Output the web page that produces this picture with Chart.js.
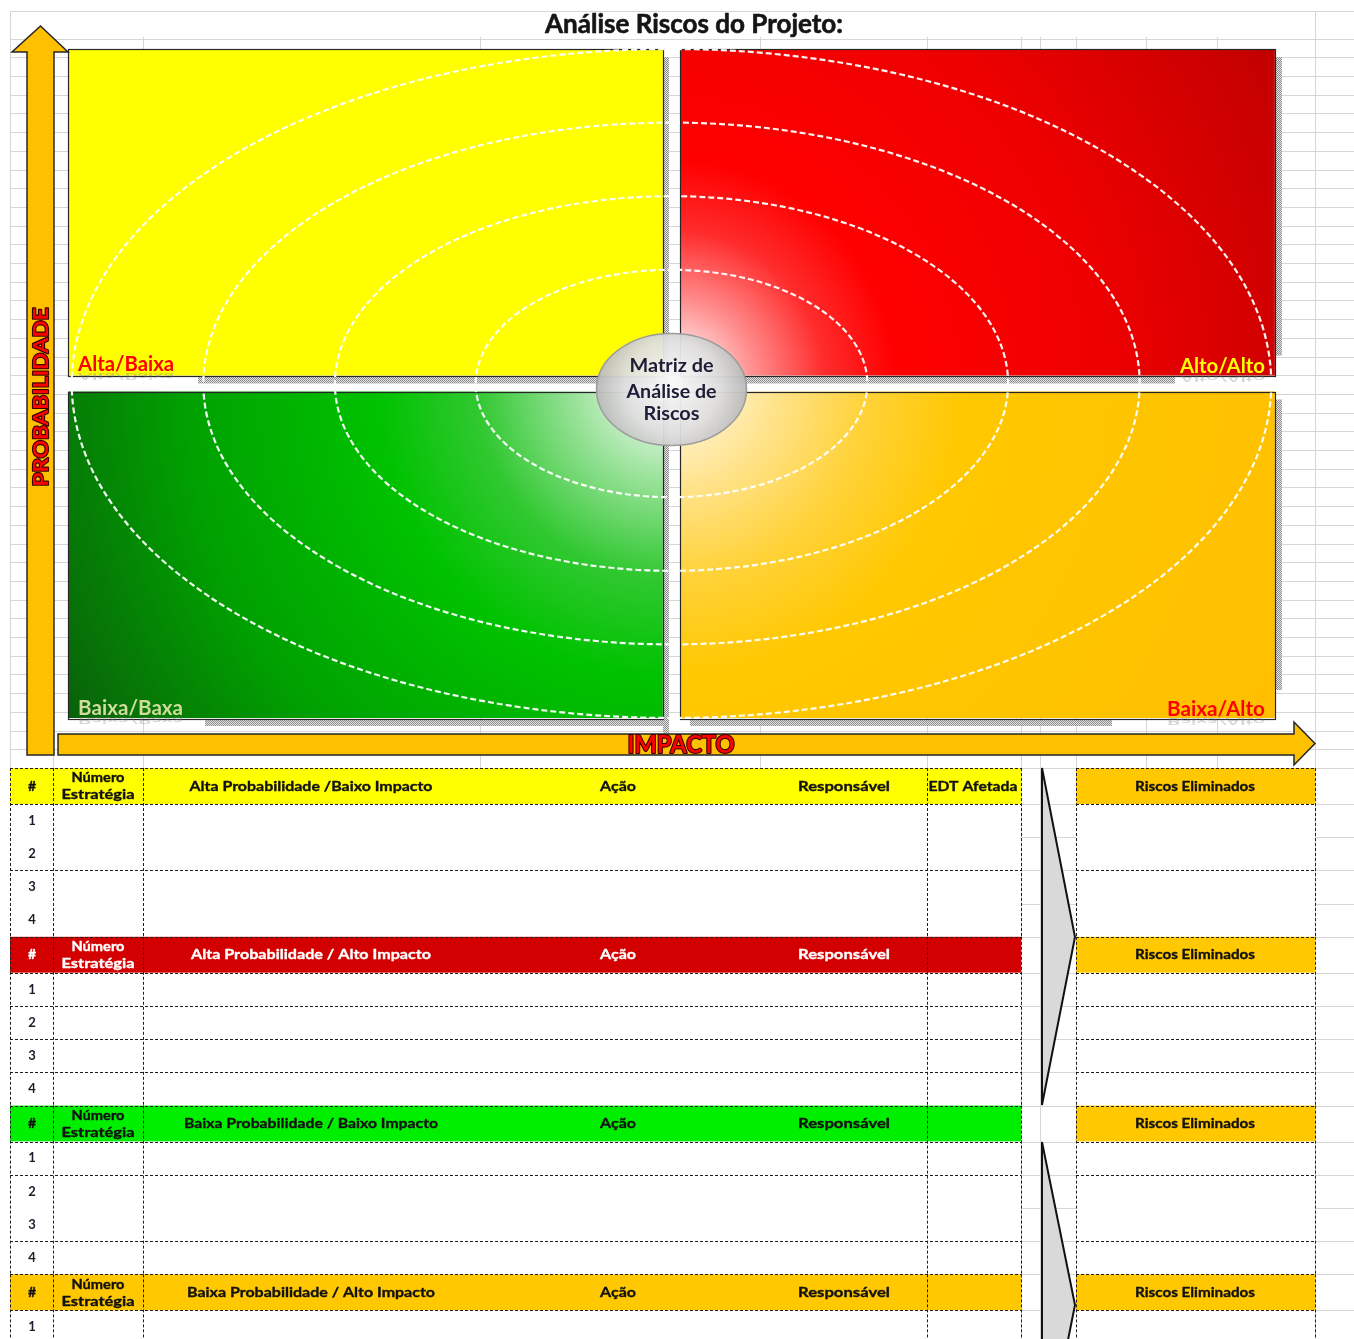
<!DOCTYPE html>
<html lang="pt">
<head>
<meta charset="utf-8">
<title>Análise Riscos do Projeto</title>
<script src="https://cdn.jsdelivr.net/npm/chart.js@4.4.1/dist/chart.umd.min.js"></script>
<style>
html,body{margin:0;padding:0;background:#fff;overflow:hidden;}
canvas{display:block;}
</style>
</head>
<body>
<canvas id="chart" width="1354" height="1339"></canvas>
<script>
// ================= DATA =================
const chartTitle = 'Análise Riscos do Projeto:';
const impactCategories = ['Baixo Impacto', 'Alto Impacto'];
const probabilitySeries = ['Alta Probabilidade', 'Baixa Probabilidade'];
const altaProbRanges = [[1, 2], [1, 2]];
const baixaProbRanges = [[0, 1], [0, 1]];
const altaProbLabels = ['Alta/Baixa', 'Alto/Alto'];
const baixaProbLabels = ['Baixa/Baxa', 'Baixa/Alto'];
const ringImpactRadii = [0.32, 0.55, 0.765, 0.98];
const ringProbRadii = [0.34, 0.56, 0.78, 1.0];
const centerLabelLines = ['Matriz de', 'Análise de', 'Riscos'];
const probAxisTitle = 'PROBABILIDADE';
const impactAxisTitle = 'IMPACTO';
const hashHeader = '#';
const strategyHeader = ['Número', 'Estratégia'];
const actionHeader = 'Ação';
const ownerHeader = 'Responsável';
const edtHeader = 'EDT Afetada';
const eliminatedHeader = 'Riscos Eliminados';
const sectionTitles = ['Alta Probabilidade /Baixo Impacto', 'Alta Probabilidade / Alto Impacto', 'Baixa Probabilidade / Baixo Impacto', 'Baixa Probabilidade / Alto Impacto'];
const sectionRowGroups = [[['1', '2'], ['3', '4']], [['1'], ['2'], ['3'], ['4']], [['1'], ['2', '3'], ['4']], [['1']]];

// ================= STYLE =================
const FONT = 'Lato, "Open Sans", "DejaVu Sans", sans-serif';
const S = {
  gap: 8,
  outline: '#262626',
  grid: '#d6d6d6',
  fills: [
    ['#ffff00', { base: '#ff0000', stops: [[0, '#ffffff'], [0.05, '#ffdede'], [0.12, '#ff8e8e'], [0.22, '#ff2c2c'], [0.32, '#ff0000'], [0.62, '#ee0000'], [1, '#c00000']] }],
    [{ base: '#00c000', stops: [[0, '#ffffff'], [0.05, '#e2f6e2'], [0.15, '#92e092'], [0.28, '#30c830'], [0.42, '#00c200'], [0.7, '#00a000'], [1, '#0a5e0a']] },
     { base: '#ffc800', stops: [[0, '#fffdf6'], [0.05, '#fff3d2'], [0.15, '#ffe38c'], [0.28, '#ffd238'], [0.42, '#ffc800'], [1, '#ffbf00']] }]
  ],
  shadows: [
    [{ r: [6, 0], b: [130, 6] }, { r: [7, -28], b: [2, -100] }],
    [{ r: [6, 7], b: [137, 6] }, { r: [7, -36], b: [10, -163] }]
  ],
  labelStyle: [
    [{ color: '#ff0000', align: 'left', dx: 10, dy: -5, w: 96 }, { color: '#ffff00', align: 'right', dx: -10, dy: -3, w: 85 }],
    [{ color: '#cfdc9c', align: 'left', dx: 10, dy: -3, w: 105 }, { color: '#ff0000', align: 'right', dx: -10, dy: -2, w: 98 }]
  ],
  table: {
    top: 768, head: 36, row: 33.2,
    cols: [10, 53, 143, 927, 1021], side: [1076, 1315],
    headColors: ['#ffff00', '#d20000', '#00ee00', '#ffc800'],
    headText: ['#111111', '#ffffff', '#111111', '#111111'],
    sideColor: '#ffc800',
    titleW: [243, 240, 254, 248]
  }
};

// ================= HELPERS =================
function drawText(ctx, s, x, y, o) {
  ctx.save();
  ctx.font = o.font;
  ctx.textBaseline = o.base || 'middle';
  ctx.textAlign = 'left';
  const m = ctx.measureText(s).width;
  const sx = o.w ? o.w / m : 1;
  let ax = 0;
  if (o.align === 'center') ax = -m / 2; else if (o.align === 'right') ax = -m;
  ctx.translate(x, y);
  if (o.rot) ctx.rotate(o.rot);
  ctx.scale(sx, o.sy || 1);
  if (o.alpha != null) ctx.globalAlpha = o.alpha;
  if (o.stroke) {
    ctx.strokeStyle = o.stroke; ctx.lineWidth = o.lw || 1; ctx.lineJoin = 'round';
    ctx.strokeText(s, ax, 0);
  }
  ctx.fillStyle = o.color;
  ctx.fillText(s, ax, 0);
  ctx.restore();
}
function radial(ctx, cx, cy, R, stops) {
  const g = ctx.createRadialGradient(cx, cy, 0, cx, cy, R);
  stops.forEach(([o, c]) => g.addColorStop(o, c));
  return g;
}
function center(chart) {
  const xs = chart.scales.x, ys = chart.scales.y;
  const x0 = xs.getPixelForValue(0), x1 = xs.getPixelForValue(1);
  return { cx: (x0 + x1) / 2, cy: ys.getPixelForValue(1), ux: x1 - x0, uy: ys.getPixelForValue(0) - ys.getPixelForValue(1) };
}
function quadFill(ctx) {
  if (ctx.type !== 'data') return '#cccccc';
  const fill = S.fills[ctx.datasetIndex][ctx.dataIndex];
  if (typeof fill === 'string') return fill;
  const chart = ctx.chart, area = chart.chartArea;
  if (!area || !chart.scales.x) return fill.base;
  const c = center(chart);
  const R = Math.hypot(area.right - c.cx, c.cy - area.top);
  return radial(chart.ctx, c.cx, c.cy, R, fill.stops);
}
let hatchPattern = null;
function hatch(ctx) {
  if (hatchPattern) return hatchPattern;
  const c = document.createElement('canvas'); c.width = c.height = 2;
  const g = c.getContext('2d');
  g.fillStyle = '#e4e4e4'; g.fillRect(0, 0, 2, 2);
  g.fillStyle = '#8c8c8c'; g.fillRect(0, 0, 1, 1); g.fillRect(1, 1, 1, 1);
  hatchPattern = ctx.createPattern(c, 'repeat');
  return hatchPattern;
}
function tableRowLines() {
  const T = S.table; const out = [];
  let y = T.top;
  sectionRowGroups.forEach(groups => {
    out.push(y); y += T.head; out.push(y);
    groups.forEach(g => { for (let k = 0; k < g.length; k++) { y += T.row; out.push(y); } });
  });
  return out;
}

// ================= PLUGINS =================
const sheetPlugin = {
  id: 'sheet',
  beforeDraw(chart) {
    const ctx = chart.ctx;
    ctx.save();
    ctx.fillStyle = '#ffffff';
    ctx.fillRect(0, 0, chart.width, chart.height);
    ctx.strokeStyle = S.grid; ctx.lineWidth = 1;
    ctx.beginPath();
    const ys = [11];
    for (let k = 0; k <= 38; k++) ys.push(38.6 + k * 18.7);
    tableRowLines().forEach(v => ys.push(v));
    ys.forEach(v => { const yy = Math.round(v) + 0.5; ctx.moveTo(10, yy); ctx.lineTo(chart.width, yy); });
    [10, 1315].forEach(v => { ctx.moveTo(v + 0.5, 11); ctx.lineTo(v + 0.5, chart.height); });
    [53, 143, 480, 760, 927, 1021, 1040, 1076, 1146, 1217].forEach(v => { ctx.moveTo(v + 0.5, 37); ctx.lineTo(v + 0.5, chart.height); });
    ctx.stroke();
    ctx.restore();
  },
  afterDatasetsDraw(chart) {
    const ctx = chart.ctx;
    const rects = [];
    chart.data.datasets.forEach((ds, di) => {
      chart.getDatasetMeta(di).data.forEach((el, i) => {
        const p = el.getProps(['x', 'y', 'base', 'width'], true);
        let L = p.x - p.width / 2, R = p.x + p.width / 2;
        let T = Math.min(p.y, p.base), B = Math.max(p.y, p.base);
        if (di === 0) B -= S.gap; else T += S.gap;
        rects.push({ di, i, L, R, T, B });
      });
    });
    ctx.save();
    // shadows
    ctx.fillStyle = hatch(ctx);
    rects.forEach(r => {
      const sh = S.shadows[r.di][r.i];
      ctx.fillRect(r.R, r.T + 8, sh.r[0], (r.B - r.T) + sh.r[1]);
      const x0 = r.L + sh.b[0];
      const x1 = r.R + sh.b[1];
      ctx.fillRect(x0, r.B + 1, x1 - x0, 7);
    });
    // outlines
    ctx.strokeStyle = S.outline; ctx.lineWidth = 1.2;
    rects.forEach(r => ctx.strokeRect(Math.round(r.L) + 0.5, Math.round(r.T) + 0.5, Math.round(r.R - r.L), Math.round(r.B - r.T)));
    // rings
    const c = center(chart);
    ctx.strokeStyle = 'rgba(255,255,255,0.95)'; ctx.lineWidth = 2.2; ctx.setLineDash([6, 3]);
    ringImpactRadii.forEach((rx, k) => {
      ctx.beginPath();
      ctx.ellipse(c.cx, c.cy, rx * c.ux, ringProbRadii[k] * c.uy, 0, 0, Math.PI * 2);
      ctx.stroke();
    });
    ctx.setLineDash([]);
    // quadrant labels (+ faint reflection)
    const labels = [altaProbLabels, baixaProbLabels];
    rects.forEach(r => {
      const st = S.labelStyle[r.di][r.i];
      const txt = labels[r.di][r.i];
      const x = st.align === 'left' ? r.L + st.dx : r.R + st.dx;
      const y = r.B + st.dy;
      drawText(ctx, txt, x, y + 2, { font: 'bold 20px ' + FONT, color: 'rgba(120,120,120,0.3)', align: st.align, w: st.w, base: 'alphabetic', sy: -0.5 });
      drawText(ctx, txt, x, y, { font: 'bold 20px ' + FONT, color: st.color, align: st.align, w: st.w, base: 'alphabetic' });
    });
    // center ellipse
    const ex = c.cx, ey = c.cy + 6, erx = 75, ery = 56;
    const g = ctx.createRadialGradient(ex, ey - 8, 4, ex, ey, erx);
    g.addColorStop(0, 'rgba(248,248,248,0.96)');
    g.addColorStop(0.6, 'rgba(222,222,222,0.95)');
    g.addColorStop(1, 'rgba(185,185,185,0.95)');
    ctx.beginPath(); ctx.ellipse(ex, ey, erx, ery, 0, 0, Math.PI * 2);
    ctx.fillStyle = g; ctx.fill();
    ctx.strokeStyle = '#9c9c9c'; ctx.lineWidth = 1.5; ctx.stroke();
    const cw = [84, 90, 56], cdy = [-24, 2, 24];
    centerLabelLines.forEach((s, k) => drawText(ctx, s, ex, ey + cdy[k], { font: 'bold 19px ' + FONT, color: '#1d1d38', align: 'center', w: cw[k] }));
    ctx.restore();
  },
  afterDraw(chart) {
    const ctx = chart.ctx;
    ctx.save();
    // title
    drawText(ctx, chartTitle, 694, 25, { font: 'bold 26px ' + FONT, color: '#151515', align: 'center', w: 298, stroke: '#151515', lw: 0.6 });
    // arrows
    ctx.fillStyle = '#ffc000'; ctx.strokeStyle = '#262626'; ctx.lineWidth = 1.5; ctx.lineJoin = 'miter';
    ctx.beginPath();
    ctx.moveTo(27, 755); ctx.lineTo(27, 52); ctx.lineTo(12, 52); ctx.lineTo(40.5, 26); ctx.lineTo(68, 52); ctx.lineTo(54, 52); ctx.lineTo(54, 755); ctx.closePath();
    ctx.fill(); ctx.stroke();
    ctx.beginPath();
    ctx.moveTo(58, 734); ctx.lineTo(1294, 734); ctx.lineTo(1294, 722); ctx.lineTo(1315, 743.5); ctx.lineTo(1294, 765); ctx.lineTo(1294, 755); ctx.lineTo(58, 755); ctx.closePath();
    ctx.fill(); ctx.stroke();
    drawText(ctx, probAxisTitle, 41, 397, { font: 'bold 21px ' + FONT, color: '#ff0000', stroke: '#3a0000', lw: 2.2, align: 'center', w: 179, rot: -Math.PI / 2 });
    drawText(ctx, impactAxisTitle, 681, 745, { font: 'bold 25px ' + FONT, color: '#ff0000', stroke: '#3a0000', lw: 2.2, align: 'center', w: 107 });

    // table
    const T = S.table;
    const xL = T.cols[0], xR = T.cols[T.cols.length - 1], sL = T.side[0], sR = T.side[1];
    let y0 = T.top;
    sectionRowGroups.forEach((groups, si) => {
      const hTop = y0, hBot = y0 + T.head;
      const nRows = groups.reduce((a, g) => a + g.length, 0);
      const bBot = hBot + nRows * T.row;
      ctx.fillStyle = T.headColors[si]; ctx.fillRect(xL, hTop, xR - xL, T.head);
      ctx.fillStyle = T.sideColor; ctx.fillRect(sL, hTop, sR - sL, T.head);
      ctx.fillStyle = '#ffffff'; ctx.fillRect(xL, hBot, xR - xL, bBot - hBot); ctx.fillRect(sL, hBot, sR - sL, bBot - hBot);
      // dashed borders
      ctx.strokeStyle = '#1e1e1e'; ctx.lineWidth = 1; ctx.setLineDash([3, 2]);
      ctx.beginPath();
      const hl = [hTop, hBot];
      let yy = hBot;
      groups.forEach(g => { yy += g.length * T.row; hl.push(yy); });
      hl.forEach(v => { const p = Math.round(v) + 0.5; ctx.moveTo(xL, p); ctx.lineTo(xR, p); ctx.moveTo(sL, p); ctx.lineTo(sR, p); });
      T.cols.concat(T.side).forEach(v => { const p = v + 0.5; ctx.moveTo(p, hTop); ctx.lineTo(p, bBot); });
      ctx.stroke();
      ctx.setLineDash([]);
      // header texts
      const tc = T.headText[si], mid = (hTop + hBot) / 2;
      const hf = 'bold 14px ' + FONT;
      const so = { stroke: tc, lw: 0.35 };
      drawText(ctx, hashHeader, 32, mid, Object.assign({ font: hf, color: tc, align: 'center' }, so));
      drawText(ctx, strategyHeader[0], 98, hTop + 10, Object.assign({ font: 'bold 13px ' + FONT, color: tc, align: 'center', w: 53 }, so));
      drawText(ctx, strategyHeader[1], 98, hTop + 27, Object.assign({ font: 'bold 13px ' + FONT, color: tc, align: 'center', w: 73 }, so));
      drawText(ctx, sectionTitles[si], 311, mid, Object.assign({ font: hf, color: tc, align: 'center', w: T.titleW[si] }, so));
      drawText(ctx, actionHeader, 618, mid, Object.assign({ font: hf, color: tc, align: 'center', w: 36 }, so));
      drawText(ctx, ownerHeader, 844, mid, Object.assign({ font: hf, color: tc, align: 'center', w: 92 }, so));
      if (si === 0) drawText(ctx, edtHeader, 973, mid, Object.assign({ font: hf, color: tc, align: 'center', w: 89 }, so));
      drawText(ctx, eliminatedHeader, 1195, mid, { font: hf, color: '#111111', align: 'center', w: 120, stroke: '#111111', lw: 0.35 });
      // row numbers
      let k = 0;
      groups.forEach(g => g.forEach(n => {
        drawText(ctx, n, 32, hBot + (k + 0.5) * T.row, { font: 'bold 13px ' + FONT, color: '#1b1b2e', align: 'center' });
        k++;
      }));
      y0 = bBot;
    });
    // funnel shapes between table and eliminated block
    ctx.fillStyle = '#d9d9d9'; ctx.strokeStyle = '#111111'; ctx.lineWidth = 2;
    [[768, 937, 1105], [1142, 1305, 1470]].forEach(([a, m, b]) => {
      ctx.beginPath();
      ctx.moveTo(1042, a); ctx.lineTo(1075, m); ctx.lineTo(1042, b); ctx.closePath();
      ctx.fill(); ctx.stroke();
    });
    ctx.restore();
  }
};

// ================= CHART =================
Chart.defaults.font.family = FONT;
new Chart(document.getElementById('chart'), {
  type: 'bar',
  data: {
    labels: impactCategories,
    datasets: [
      {
        label: probabilitySeries[0], data: altaProbRanges,
        backgroundColor: quadFill, borderColor: '#ffffff',
        borderWidth: { top: 0, left: 0, right: 0, bottom: S.gap }, borderSkipped: false,
        grouped: false, categoryPercentage: 1, barPercentage: 0.972
      },
      {
        label: probabilitySeries[1], data: baixaProbRanges,
        backgroundColor: quadFill, borderColor: '#ffffff',
        borderWidth: { top: S.gap, left: 0, right: 0, bottom: 0 }, borderSkipped: false,
        grouped: false, categoryPercentage: 1, barPercentage: 0.972
      }
    ]
  },
  options: {
    responsive: false,
    animation: false,
    devicePixelRatio: 1,
    layout: { padding: { left: 59.5, right: 70.5, top: 49, bottom: 621 } },
    scales: {
      x: { display: false, offset: true },
      y: { display: false, min: 0, max: 2 }
    },
    plugins: { legend: { display: false }, tooltip: { enabled: false }, title: { display: false } }
  },
  plugins: [sheetPlugin]
});
</script>
</body>
</html>
